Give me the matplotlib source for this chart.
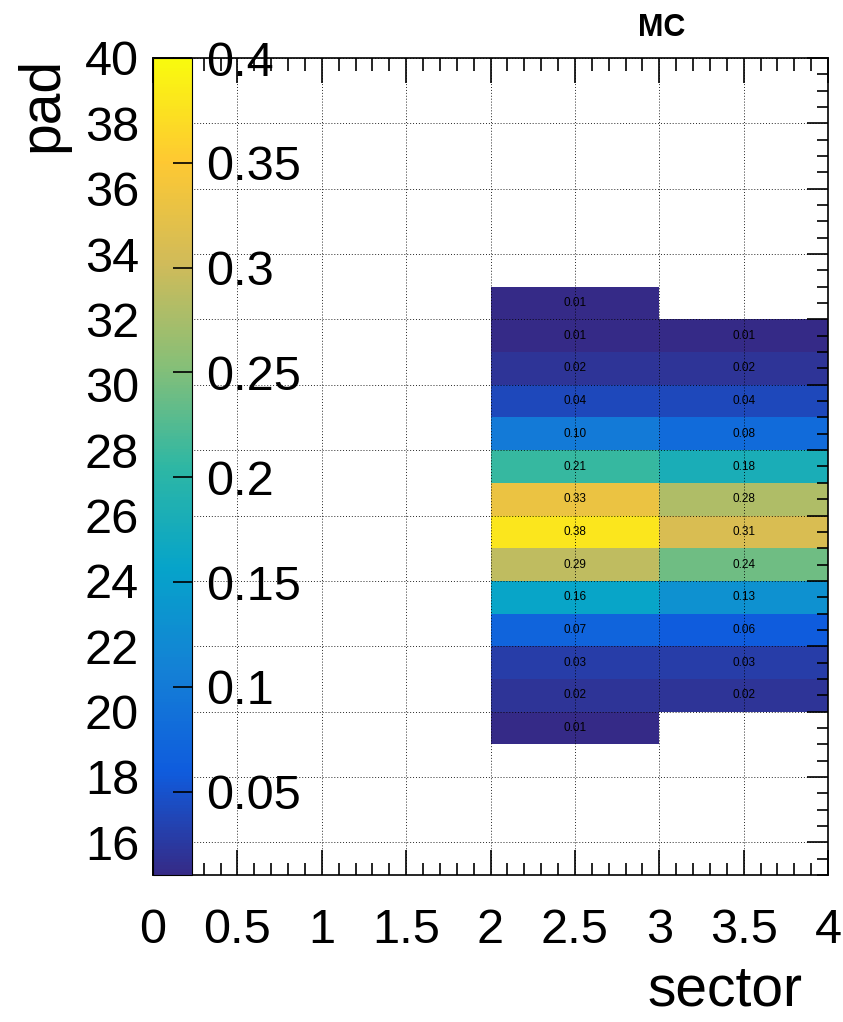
import numpy as np
import matplotlib
matplotlib.use("Agg")
import matplotlib.pyplot as plt
from matplotlib.colors import LinearSegmentedColormap
from matplotlib.ticker import MultipleLocator

plt.rcParams['font.family'] = ['Liberation Sans', 'DejaVu Sans']

# pad bins (lower edge) and fractions per sector
sector2_pads = [19, 20, 21, 22, 23, 24, 25, 26, 27, 28, 29, 30, 31, 32]
sector2_vals = [0.01, 0.02, 0.03, 0.07, 0.16, 0.29, 0.38, 0.33, 0.21, 0.10, 0.04, 0.02, 0.01, 0.01]
sector3_pads = [20, 21, 22, 23, 24, 25, 26, 27, 28, 29, 30, 31]
sector3_vals = [0.02, 0.03, 0.06, 0.13, 0.24, 0.31, 0.28, 0.18, 0.08, 0.04, 0.02, 0.01]

x_edges = np.arange(0, 5)
y_edges = np.arange(15, 41)
z_min, z_max = 0.0103, 0.4

# ROOT kBird palette
stops = [0.0, 0.125, 0.25, 0.375, 0.5, 0.625, 0.75, 0.875, 1.0]
red = [0.2082, 0.0592, 0.0780, 0.0232, 0.1802, 0.5301, 0.8186, 0.9956, 0.9764]
green = [0.1664, 0.3599, 0.5041, 0.6419, 0.7178, 0.7492, 0.7328, 0.7862, 0.9832]
blue = [0.5293, 0.8684, 0.8385, 0.7914, 0.6425, 0.4662, 0.3499, 0.1968, 0.0539]
bird = LinearSegmentedColormap.from_list(
    "bird", list(zip(stops, zip(red, green, blue))), N=255)

Z = np.full((len(y_edges) - 1, len(x_edges) - 1), np.nan)
for col, pads, vals in [(2, sector2_pads, sector2_vals), (3, sector3_pads, sector3_vals)]:
    for p, v in zip(pads, vals):
        Z[p - 15, col] = v
Z = np.ma.masked_invalid(Z)

W, H = 843, 1022
fig = plt.figure(figsize=(W / 100, H / 100), dpi=100)
left, right, top, bottom = 153 / W, 828 / W, 1 - 58 / H, 1 - 875 / H
ax = fig.add_axes([left, bottom, right - left, top - bottom])

mesh = ax.pcolormesh(x_edges, y_edges, Z, cmap=bird, vmin=z_min, vmax=z_max, zorder=1)

# bin contents
for col, pads, vals in [(2, sector2_pads, sector2_vals), (3, sector3_pads, sector3_vals)]:
    for p, v in zip(pads, vals):
        ax.text(col + 0.5, p + 0.5, f"{v:.2f}", ha="center", va="center",
                fontsize=8.5, color="black", zorder=4)

ax.set_xlim(0, 4)
ax.set_ylim(15, 40)
ax.xaxis.set_minor_locator(MultipleLocator(0.1))
ax.yaxis.set_minor_locator(MultipleLocator(0.5))
ax.set_xticks(np.arange(0, 4.01, 0.5))
ax.set_xticklabels(["0", "0.5", "1", "1.5", "2", "2.5", "3", "3.5", "4"])
ax.set_yticks(np.arange(16, 41, 2))
ax.tick_params(axis="x", which="both", direction="in", top=True, bottom=True,
               labelsize=35, pad=24)
ax.tick_params(axis="x", which="major", length=18, width=1.2)
ax.tick_params(axis="x", which="minor", length=9, width=1.2)
ax.tick_params(axis="y", which="both", direction="in", left=True, right=True,
               labelsize=35, pad=10)
ax.tick_params(axis="y", which="major", length=15, width=1.2)
ax.tick_params(axis="y", which="minor", length=8, width=1.2)
for s in ax.spines.values():
    s.set_linewidth(1.2)

ax.grid(True, which="major", linestyle=(0, (1, 2)), color="black", linewidth=0.7, alpha=0.85)
ax.set_axisbelow(False)

# axis titles placed like ROOT does
fig.text(802 / W, 1 - 1005 / H, "sector", ha="right", va="baseline", fontsize=41)
fig.text(42 / W, 1 - 57 / H, "pad", ha="center", va="top", rotation=90, fontsize=41)

# palette on top of the left part of the frame
cax = fig.add_axes([left, bottom, 39 / W, top - bottom])
cb = fig.colorbar(mesh, cax=cax)
cb.set_ticks([0.05, 0.1, 0.15, 0.2, 0.25, 0.3, 0.35, 0.4])
cb.set_ticklabels(["0.05", "0.1", "0.15", "0.2", "0.25", "0.3", "0.35", "0.4"])
cax.tick_params(axis="y", which="major", direction="in", right=True, left=False,
                length=14, width=1.2, labelsize=35, pad=10)
cax.minorticks_off()
cb.outline.set_linewidth(0.8)

fig.text(662 / W, 1 - 28 / H, "MC", ha="center", va="center",
         fontsize=22, fontweight="bold")

fig.savefig("out.png", dpi=100)
